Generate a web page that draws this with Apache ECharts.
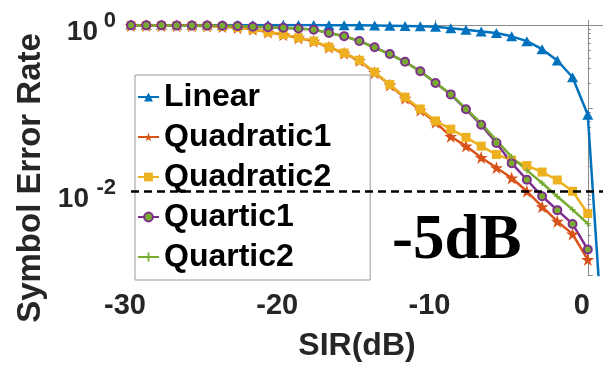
<!DOCTYPE html>
<html>
<head>
<meta charset="utf-8">
<script src="https://cdn.jsdelivr.net/npm/echarts@6/dist/echarts.min.js"></script>
<style>
  html, body { margin: 0; padding: 0; background: #fff; }
  #chart { width: 603px; height: 367px; }
</style>
</head>
<body>
<div id="chart"></div>
<script>
// SIR sweep (dB)
const sirDb = [-30, -29, -28, -27, -26, -25, -24, -23, -22, -21, -20, -19, -18, -17, -16,
               -15, -14, -13, -12, -11, -10, -9, -8, -7, -6, -5, -4, -3, -2, -1, 0];
const sirDbLinear = [-30, -29, -28, -27, -26, -25, -24, -23, -22, -21, -20, -19, -18, -17, -16,
                     -15, -14, -13, -12, -11, -10, -9, -8, -7, -6, -5, -4, -3, -2, -1, 0, 1];

// Symbol error rate per receiver
const serLinear = [1, 1, 1, 1, 1, 1, 1, 1, 1, 1, 1, 1, 1, 0.996, 0.993, 0.99, 0.987, 0.982,
                   0.975, 0.966, 0.952, 0.915, 0.875, 0.836, 0.80, 0.731, 0.64, 0.512, 0.375,
                   0.236, 0.0836, 0.00015];
const serQuadratic1 = [0.985, 0.983, 0.982, 0.98, 0.978, 0.973, 0.955, 0.93, 0.89, 0.82,
                       0.765, 0.70, 0.638, 0.54, 0.458, 0.374, 0.268, 0.19, 0.132, 0.095,
                       0.068, 0.046, 0.0352, 0.0257, 0.0194, 0.0146, 0.0101, 0.0066,
                       0.0044, 0.0031, 0.00153];
const serQuadratic2 = [0.985, 0.983, 0.982, 0.98, 0.978, 0.973, 0.956, 0.932, 0.892, 0.823,
                       0.768, 0.703, 0.64, 0.544, 0.462, 0.378, 0.272, 0.193, 0.136, 0.098,
                       0.0706, 0.0563, 0.0448, 0.0352, 0.0279, 0.0239, 0.0206, 0.0172,
                       0.0138, 0.0101, 0.00547];
const serQuartic1 = [0.99, 0.99, 0.99, 0.988, 0.987, 0.985, 0.98, 0.97, 0.955, 0.94,
                     0.925, 0.908, 0.88, 0.80, 0.735, 0.643, 0.54, 0.448, 0.362, 0.279,
                     0.201, 0.147, 0.0974, 0.0634, 0.0385, 0.022, 0.0139, 0.0088,
                     0.006, 0.0041, 0.00202];
const serQuartic2 = [0.99, 0.99, 0.99, 0.988, 0.987, 0.985, 0.98, 0.97, 0.955, 0.94,
                     0.925, 0.908, 0.88, 0.80, 0.733, 0.64, 0.536, 0.445, 0.36, 0.278,
                     0.203, 0.149, 0.099, 0.066, 0.0413, 0.0262, 0.018, 0.0127,
                     0.00875, 0.0061, 0.00413];

// Reference SER level and its annotation
const serTarget = 0.01;
const annotationText = '-5dB';

// Axis tick values
const xTickStep = 10;
const yLabelExponents = [0, -2];

const zip = (xs, ys) => xs.map((x, i) => [x, ys[i]]);

const SANS = '"Liberation Sans", Arial, Helvetica, sans-serif';
const SERIF = '"Liberation Serif", "Times New Roman", serif';
const AXIS_GREY = '#8a8a8a';
const TEXT_DARK = '#262626';

const C_BLUE = '#0072BD', C_ORANGE = '#D95319', C_YELLOW = '#EDB120',
      C_PURPLE = '#7E2F8E', C_GREEN = '#77AC30';

const STAR = 'path://M50,0 L61.8,35.4 L98.5,35.4 L68.8,57.3 L79.8,92.7 L50,70.8 L20.2,92.7 L31.2,57.3 L1.5,35.4 L38.2,35.4 Z';
const PLUS = 'path://M4,0 H6 V4 H10 V6 H6 V10 H4 V6 H0 V4 H4 Z';

// log-spaced minor ticks for each decade, in log10 units
const minorTickLogs = [];
for (let d = -3; d < 0; d++) {
  for (let m = 2; m <= 9; m++) minorTickLogs.push(d + Math.log10(m));
}

// "10" with a raised exponent: exponent on the first line, mantissa on the second,
// shifted left by the exponent's width so the two read as one label
const powerLabelRich = {
  s:  { fontFamily: SANS, fontWeight: 'bold', fontSize: 22, color: TEXT_DARK, lineHeight: 15 },
  b1: { fontFamily: SANS, fontWeight: 'bold', fontSize: 28, color: TEXT_DARK, lineHeight: 8, padding: [0, 18, 0, 0] },
  b2: { fontFamily: SANS, fontWeight: 'bold', fontSize: 28, color: TEXT_DARK, lineHeight: 8, padding: [0, 27, 0, 0] }
};

const chart = echarts.init(document.getElementById('chart'), null, { renderer: 'canvas' });

const option = {
  backgroundColor: '#fff',
  animation: false,
  grid: { left: 131, top: 25, right: -5.4, bottom: 84, containLabel: false },
  xAxis: [
    {
      type: 'value', min: -30, max: 1, interval: xTickStep,
      name: 'SIR(dB)', nameLocation: 'middle', nameGap: 55,
      nameTextStyle: { fontFamily: SANS, fontWeight: 'bold', fontSize: 32, color: TEXT_DARK, padding: [0, 20, 0, 0] },
      axisLine: { show: true, lineStyle: { color: AXIS_GREY, width: 1 } },
      axisTick: { show: true, inside: true, length: 5, lineStyle: { color: AXIS_GREY } },
      axisLabel: {
        margin: 16, fontFamily: SANS, fontWeight: 'bold', fontSize: 29, color: TEXT_DARK,
        padding: [0, 12, 0, 0],
        showMaxLabel: false,
        formatter: v => (v % xTickStep === 0 ? String(v) : '')
      },
      splitLine: { show: false }
    },
    {
      type: 'value', position: 'top', min: -30, max: 1, interval: xTickStep,
      axisLine: { show: true, onZero: false, lineStyle: { color: AXIS_GREY, width: 1 } },
      axisTick: { show: true, inside: true, length: 5, lineStyle: { color: AXIS_GREY } },
      axisLabel: { show: false },
      splitLine: { show: false }
    }
  ],
  yAxis: [
    {
      type: 'log', logBase: 10, min: 0.001, max: 1,
      name: 'Symbol Error Rate', nameLocation: 'middle', nameGap: 82,
      nameTextStyle: { fontFamily: SANS, fontWeight: 'bold', fontSize: 33, color: TEXT_DARK, padding: [0, 56, 0, 0] },
      axisLine: { show: true, lineStyle: { color: AXIS_GREY, width: 1 } },
      axisTick: { show: true, inside: true, length: 5, lineStyle: { color: AXIS_GREY } },
      axisLabel: {
        margin: 15,
        formatter: v => {
          const e = Math.round(Math.log10(v));
          if (!yLabelExponents.includes(e)) return '';
          const exp = String(e);
          return '{s|' + exp + '}\n{' + (exp.length > 1 ? 'b2' : 'b1') + '|10}';
        },
        rich: powerLabelRich
      },
      splitLine: { show: false }
    },
    {
      // log-spaced minor ticks drawn on a linear axis in log10 units
      type: 'value', min: -3, max: 0, position: 'left',
      axisLine: { show: false },
      axisTick: { show: true, inside: true, length: 3, customValues: minorTickLogs, lineStyle: { color: AXIS_GREY } },
      axisLabel: { show: false },
      splitLine: { show: false }
    }
  ],
  legend: {
    orient: 'vertical', left: 135, top: 75,
    padding: [4, 39, 5, 2], itemGap: 4,
    itemWidth: 21, itemHeight: 11,
    backgroundColor: '#fff', borderColor: '#9a9a9a', borderWidth: 1,
    textStyle: { fontFamily: SANS, fontWeight: 'bold', fontSize: 32, color: '#000', lineHeight: 36 },
    data: ['Linear', 'Quadratic1', 'Quadratic2', 'Quartic1', 'Quartic2']
  },
  series: [
    {
      name: 'Linear', type: 'line', data: zip(sirDbLinear, serLinear),
      symbol: 'triangle', symbolSize: [11, 10], showAllSymbol: true,
      lineStyle: { color: C_BLUE, width: 2.5 }, itemStyle: { color: C_BLUE },
      markLine: {
        silent: true, symbol: ['none', 'none'], label: { show: false },
        lineStyle: { color: '#000', type: [8, 5], width: 2.5 },
        data: [{ yAxis: serTarget }]
      }
    },
    {
      name: 'linearCore', type: 'scatter', data: zip(sirDbLinear, serLinear),
      symbol: 'circle', symbolSize: 3, itemStyle: { color: '#9383c4' }, silent: true
    },
    {
      name: 'Quadratic1', type: 'line', data: zip(sirDb, serQuadratic1),
      symbol: STAR, symbolSize: 13, showAllSymbol: true,
      lineStyle: { color: C_ORANGE, width: 2.5 }, itemStyle: { color: C_ORANGE }
    },
    {
      name: 'Quadratic2', type: 'line', data: zip(sirDb, serQuadratic2),
      symbol: 'rect', symbolSize: 9, showAllSymbol: true,
      lineStyle: { color: C_YELLOW, width: 2.5 }, itemStyle: { color: C_YELLOW }
    },
    {
      name: 'quad2Core', type: 'scatter', data: zip(sirDb, serQuadratic2),
      symbol: 'circle', symbolSize: 3, itemStyle: { color: '#9a98b4' }, silent: true
    },
    {
      name: 'Quartic1', type: 'line', data: zip(sirDb, serQuartic1),
      symbol: 'circle', symbolSize: 8, showAllSymbol: true,
      lineStyle: { color: C_PURPLE, width: 2.5 },
      itemStyle: { color: C_GREEN, borderColor: C_PURPLE, borderWidth: 2 }
    },
    {
      name: 'Quartic2', type: 'line', data: zip(sirDb, serQuartic2),
      symbol: PLUS, symbolSize: 6, showAllSymbol: true,
      lineStyle: { color: C_GREEN, width: 2.5 }, itemStyle: { color: C_GREEN }
    }
  ],
  graphic: [
    {
      type: 'text', left: 392, top: 210, z: 10,
      style: { text: annotationText, font: 'bold 63px ' + SERIF, fill: '#000' }
    }
  ]
};

chart.setOption(option);
</script>
</body>
</html>
